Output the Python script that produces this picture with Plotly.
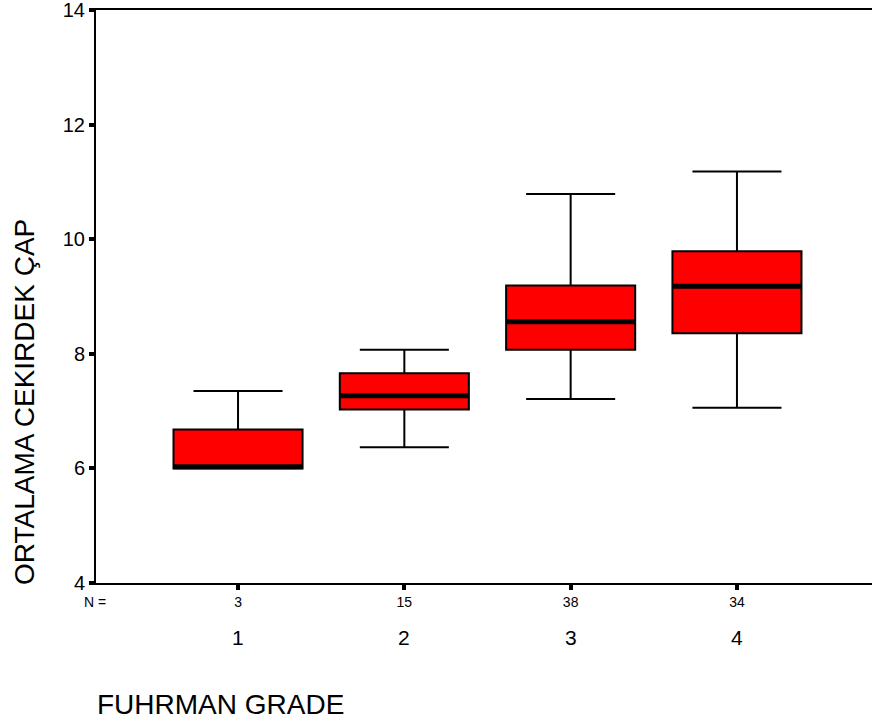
import plotly.graph_objects as go

# Data
categories = ["1", "2", "3", "4"]
positions = [1, 2, 3, 4]
n_counts = ["3", "15", "38", "34"]
lower_whisker = [6.00, 6.37, 7.21, 7.06]
q1_values = [6.00, 7.03, 8.07, 8.36]
median_values = [6.03, 7.27, 8.56, 9.18]
q3_values = [6.68, 7.66, 9.19, 9.79]
upper_whisker = [7.35, 8.07, 10.79, 11.18]
y_ticks = [4, 6, 8, 10, 12, 14]

FONT = "Liberation Sans, Arial, sans-serif"
BOX_W = 0.776

fig = go.Figure()

# Main boxes
fig.add_trace(go.Box(
    x=positions,
    q1=q1_values, median=median_values, q3=q3_values,
    lowerfence=lower_whisker, upperfence=upper_whisker,
    fillcolor="#ff0000",
    line=dict(color="black", width=2),
    width=BOX_W,
    whiskerwidth=0.69,
    boxpoints=False,
    hoverinfo="skip",
    showlegend=False,
))

# Thick median lines (zero-height boxes at the medians)
fig.add_trace(go.Box(
    x=positions,
    q1=median_values, median=median_values, q3=median_values,
    lowerfence=median_values, upperfence=median_values,
    fillcolor="black",
    line=dict(color="black", width=5),
    width=BOX_W,
    whiskerwidth=0,
    boxpoints=False,
    hoverinfo="skip",
    showlegend=False,
))

annotations = []
# Category labels under the N counts
for p, c in zip(positions, categories):
    annotations.append(dict(
        x=p, xref="x", y=0, yref="paper", yanchor="middle", yshift=-54,
        text=c, showarrow=False, font=dict(family=FONT, size=21, color="black"),
    ))
# "N =" label
annotations.append(dict(
    x=0, xref="paper", xanchor="center", xshift=-1,
    y=0, yref="paper", yanchor="middle", yshift=-19,
    text="N =", showarrow=False, font=dict(family=FONT, size=14, color="black"),
))
# Axis titles
annotations.append(dict(
    x=0, xref="paper", xanchor="center", xshift=-71,
    y=0.316, yref="paper", yanchor="middle",
    text="ORTALAMA CEKIRDEK ÇAP", textangle=-90, showarrow=False,
    font=dict(family=FONT, size=28, color="black"),
))
annotations.append(dict(
    x=0, xref="paper", xanchor="left", xshift=-1,
    y=0, yref="paper", yanchor="middle", yshift=-121,
    text="FUHRMAN GRADE", showarrow=False,
    font=dict(family=FONT, size=28, color="black"),
))

fig.update_layout(
    width=872, height=726,
    margin=dict(l=96, r=0, t=10, b=143),
    paper_bgcolor="white", plot_bgcolor="white",
    boxmode="overlay",
    showlegend=False,
    font=dict(family=FONT, color="black"),
    annotations=annotations,
    xaxis=dict(
        range=[0.146, 4.812],
        tickvals=positions, ticktext=n_counts,
        tickfont=dict(family=FONT, size=14, color="black"),
        ticks="outside", ticklen=5, tickwidth=4, tickcolor="black",
        showline=True, linecolor="black", linewidth=2, mirror=True,
        showgrid=False, zeroline=False,
    ),
    yaxis=dict(
        range=[4, 14],
        tickvals=y_ticks,
        tickfont=dict(family=FONT, size=20, color="black"),
        ticks="outside", ticklen=5, tickwidth=4, tickcolor="black",
        ticklabeloverflow="allow",
        showline=True, linecolor="black", linewidth=2, mirror=False,
        showgrid=False, zeroline=False,
    ),
)

fig.write_html("out.html")
